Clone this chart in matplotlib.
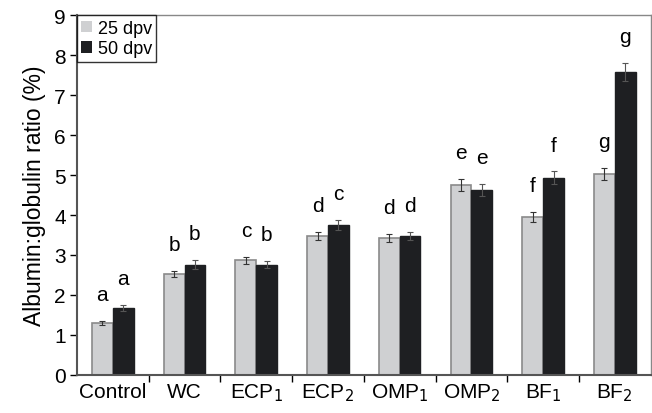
import numpy as np
import matplotlib
matplotlib.use("Agg")
import matplotlib.pyplot as plt

plt.rcParams["font.family"] = ["Liberation Sans", "DejaVu Sans"]

groups = ["Control", "WC", "ECP$_1$", "ECP$_2$", "OMP$_1$", "OMP$_2$", "BF$_1$", "BF$_2$"]
dpv25 = [1.30, 2.53, 2.87, 3.47, 3.43, 4.75, 3.95, 5.03]
dpv50 = [1.68, 2.76, 2.76, 3.75, 3.48, 4.63, 4.93, 7.58]
err25 = [0.05, 0.08, 0.09, 0.10, 0.10, 0.15, 0.12, 0.15]
err50 = [0.07, 0.12, 0.09, 0.13, 0.10, 0.15, 0.16, 0.22]
let25 = ["a", "b", "c", "d", "d", "e", "f", "g"]
let50 = ["a", "b", "b", "c", "d", "e", "f", "g"]

fig = plt.figure(figsize=(6.52, 4.14), dpi=100)
ax = fig.add_axes([0.118, 0.092, 0.880, 0.869])

x = np.arange(len(groups))
w = 0.29
light = "#cfd0d2"
dark = "#1e1f22"

ax.bar(x - w / 2, dpv25, w, color=light, edgecolor="#8a8a8a", linewidth=1.2,
       yerr=err25, error_kw=dict(ecolor="#333333", elinewidth=0.8, capsize=2.5, capthick=0.8),
       label="25 dpv")
ax.bar(x + w / 2, dpv50, w, color=dark, edgecolor=dark, linewidth=1.0,
       yerr=err50, error_kw=dict(ecolor="#555555", elinewidth=0.8, capsize=2.5, capthick=0.8),
       label="50 dpv")

for i in range(len(groups)):
    ax.text(x[i] - w / 2, dpv25[i] + err25[i] + 0.42, let25[i], ha="center", va="bottom", fontsize=15)
    ax.text(x[i] + w / 2, dpv50[i] + err50[i] + 0.42, let50[i], ha="center", va="bottom", fontsize=15)

ax.set_xlim(-0.5, len(groups) - 0.5)
ax.set_ylim(0, 9)
ax.set_yticks(range(0, 10))
ax.set_xticks(x)
ax.set_xticklabels(groups, fontsize=15)
ax.set_xticks(np.arange(0.5, len(groups) - 0.5, 1), minor=True)
ax.tick_params(axis="x", which="major", length=0, pad=5)
ax.tick_params(axis="x", which="minor", length=5, direction="out", width=1.0)
ax.tick_params(axis="y", labelsize=15, length=5, direction="out", width=1.0, pad=3)
ax.set_ylabel("Albumin:globulin ratio (%)", fontsize=16.5, labelpad=6)

for side in ["left", "bottom"]:
    ax.spines[side].set_color("#555555")
    ax.spines[side].set_linewidth(1.5)
for side in ["top", "right"]:
    ax.spines[side].set_color("#888888")
    ax.spines[side].set_linewidth(1.0)

leg = ax.legend(loc="upper left", fontsize=13, frameon=True, fancybox=False,
                borderaxespad=0.0, handlelength=0.6, handleheight=0.6,
                handletextpad=0.3, borderpad=0.25, labelspacing=0.2)
leg.get_frame().set_edgecolor("black")
leg.get_frame().set_linewidth(1.0)
for h in leg.legend_handles:
    h.set_edgecolor("none")

fig.savefig("out.png", dpi=100)
